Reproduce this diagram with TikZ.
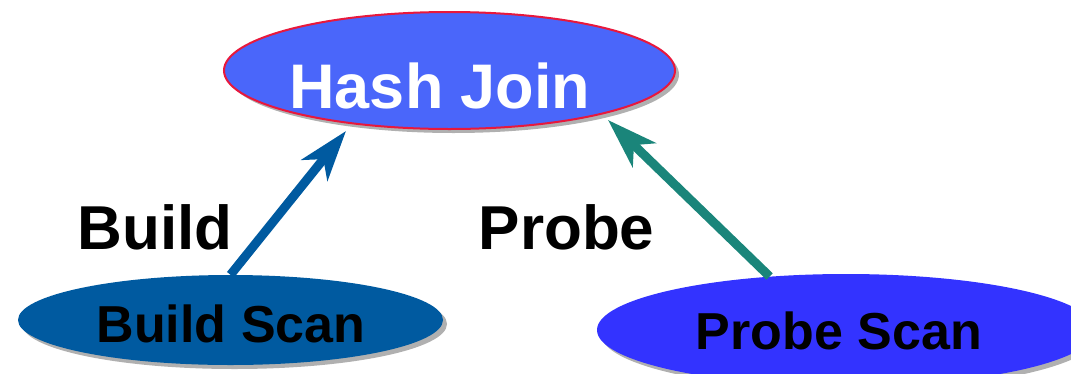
\documentclass[tikz,border=0pt]{standalone}
\usepackage{fontspec}
\setmainfont{Liberation Sans}
\usetikzlibrary{arrows.meta,shadows,shapes.geometric}

\definecolor{joinfill}{RGB}{74,102,250}
\definecolor{joinedge}{RGB}{232,24,60}
\definecolor{buildblue}{RGB}{0,90,160}
\definecolor{probeblue}{RGB}{51,51,255}
\definecolor{probeteal}{RGB}{26,133,122}
\definecolor{shadowgray}{RGB}{176,176,176}

\tikzset{
  oval/.style={ellipse, inner sep=0pt, draw=none,
    drop shadow={shadow xshift=4pt, shadow yshift=-4pt, fill=shadowgray, opacity=1}},
  bigtext/.style={anchor=base, inner sep=0pt, font=\fontsize{63}{63}\selectfont\bfseries},
  scantext/.style={anchor=base, inner sep=0pt, font=\fontsize{52}{52}\selectfont\bfseries},
  flow/.style={line width=9pt, -{Stealth[length=50pt, width=33pt, inset=14pt]}},
}

\begin{document}
\begin{tikzpicture}[x=1pt, y=-1pt]
  \useasboundingbox (0,0) rectangle (1071,373);

  % operator ovals
  \node[oval, fill=joinfill, draw=joinedge, line width=2pt,
        minimum width=451pt, minimum height=117pt] (hj) at (449.5,70.5) {};
  \node[oval, fill=buildblue, minimum width=425pt, minimum height=90pt] (bs) at (230.5,320) {};
  \node[oval, fill=probeblue, minimum width=498pt, minimum height=112pt] (ps) at (846,330) {};

  % operator names
  \node[bigtext, text=white] (hjt) at (440,108) {Hash Join};
  \node[scantext] (bst) at (231,342) {Build Scan};
  \node[scantext] (pst) at (839,349) {Probe Scan};

  % data flow into the join
  \coordinate (btip) at (346,131);
  \coordinate (ptip) at (608,120);
  \draw[flow, buildblue] (bs.north) -- (btip);
  \draw[flow, probeteal] (ps.145) -- (ptip);

  % phase labels
  \node[bigtext, font=\fontsize{62}{62}\selectfont\bfseries] (bl) at (155,249) {Build};
  \node[bigtext, font=\fontsize{62}{62}\selectfont\bfseries] (pl) at (566.5,249) {Probe};
\end{tikzpicture}
\end{document}
